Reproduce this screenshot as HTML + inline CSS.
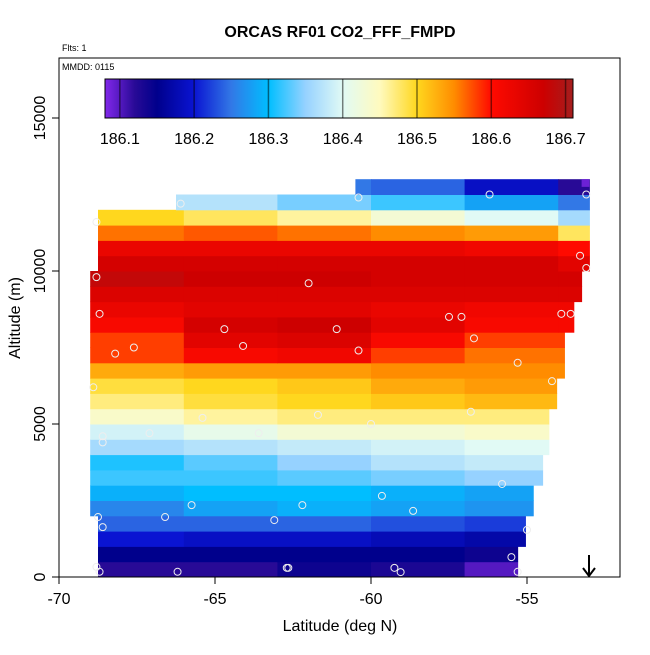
<!DOCTYPE html>
<html><head><meta charset="utf-8"><style>
body{margin:0;background:#fff;}
svg text{font-family:"Liberation Sans",sans-serif;}
</style></head><body>
<svg id="chart" width="650" height="650" viewBox="0 0 650 650">
<defs><linearGradient id="cbg" x1="0" x2="1" y1="0" y2="0"></linearGradient></defs>
<text x="340" y="37" text-anchor="middle" font-size="16" font-weight="bold">ORCAS RF01 CO2_FFF_FMPD</text>
<text x="62" y="51" font-size="9">Flts: 1</text>
<g id="cells"></g>
<g id="points"></g>
<rect x="59" y="58" width="561" height="519" fill="none" stroke="#000" stroke-width="1"/>
<text x="62" y="70" font-size="9">MMDD: 0115</text>
<rect id="cbar" x="105" y="79" width="468" height="39" fill="url(#cbg)" stroke="#000" stroke-width="1"/>
<g id="cbticks"></g>
<g id="axes"></g>
<g>
<line x1="589" y1="555" x2="589" y2="576" stroke="#000" stroke-width="2"/>
<polyline points="583,568 589,576 595,568" fill="none" stroke="#000" stroke-width="2"/>
</g>
<text x="340" y="631" text-anchor="middle" font-size="16">Latitude (deg N)</text>
<text x="20" y="318" text-anchor="middle" font-size="16" transform="rotate(-90 20 318)">Altitude (m)</text>
</svg>
<script>
// data
const latBins=[-69.0,-66.0,-63.0,-60.0,-57.0,-54.0,-53.0];
const altBins=[0,500,1000,1500,2000,2500,3000,3500,4000,4500,5000,5500,6000,6500,7000,7500,8000,8500,9000,9500,10000,10500,11000,11500,12000,12500,13000];
const rowLeft=[-68.75,-68.75,-68.75,-68.75,-69.0,-69.0,-69.0,-69.0,-69.0,-69.0,-69.0,-69.0,-69.0,-69.0,-69.0,-69.0,-69.0,-69.0,-69.0,-69.0,-68.75,-68.75,-68.75,-68.75,-66.25,-60.5];
const rowRight=[-55.3,-55.3,-55.05,-55.05,-54.8,-54.8,-54.5,-54.5,-54.3,-54.3,-54.3,-54.05,-54.05,-53.8,-53.8,-53.8,-53.5,-53.5,-53.25,-53.25,-53.0,-53.0,-53.0,-53.0,-53.0,-53.0];
const values=[
[186.12,186.12,186.14,186.13,186.10,186.10],
[186.15,186.15,186.15,186.15,186.14,186.14],
[186.20,186.19,186.19,186.18,186.17,186.17],
[186.24,186.24,186.24,186.23,186.22,186.22],
[186.26,186.28,186.29,186.28,186.27,186.27],
[186.29,186.30,186.30,186.29,186.28,186.28],
[186.32,186.32,186.33,186.34,186.35,186.35],
[186.31,186.33,186.35,186.37,186.38,186.38],
[186.36,186.37,186.38,186.39,186.40,186.40],
[186.39,186.41,186.43,186.43,186.44,186.44],
[186.44,186.46,186.47,186.47,186.47,186.47],
[186.47,186.49,186.50,186.51,186.52,186.52],
[186.49,186.50,186.51,186.53,186.54,186.54],
[186.53,186.54,186.54,186.55,186.55,186.55],
[186.58,186.61,186.62,186.58,186.56,186.56],
[186.58,186.64,186.65,186.61,186.58,186.58],
[186.61,186.66,186.67,186.64,186.61,186.61],
[186.63,186.64,186.64,186.63,186.62,186.62],
[186.65,186.65,186.65,186.65,186.65,186.65],
[186.68,186.67,186.67,186.66,186.66,186.66],
[186.66,186.66,186.66,186.66,186.66,186.64],
[186.63,186.63,186.63,186.63,186.62,186.60],
[186.56,186.57,186.56,186.55,186.54,186.48],
[186.50,186.48,186.46,186.43,186.40,186.36],
[186.37,186.37,186.34,186.32,186.28,186.25],
[186.25,186.25,186.25,186.24,186.19,186.12]
];
const ptLat=[-68.8,-68.8,-68.7,-68.2,-67.6,-64.7,-64.1,-62.0,-61.1,-60.4,-57.5,-57.1,-56.7,-55.3,-54.2,-53.9,-53.6,-53.3,-53.1,-53.1,-56.2,-60.4,-66.1,-68.9,-67.1,-65.4,-63.6,-61.7,-60.0,-56.8,-68.6,-68.6,-55.8,-58.65,-59.65,-62.2,-63.1,-65.75,-66.6,-68.75,-68.6,-55.0,-55.5,-68.8,-68.7,-66.2,-62.7,-62.65,-59.25,-59.05,-55.3];
const ptAlt=[11600,9800,8600,7300,7500,8100,7550,9600,8100,7400,8500,8500,7800,7000,6400,8600,8600,10500,10100,12500,12500,12400,12200,6200,4700,5200,4700,5300,5000,5400,4600,4400,3040,2160,2650,2350,1860,2350,1960,1960,1630,1540,650,330,170,170,300,300,300,160,170];
const cbTicks=[186.1,186.2,186.3,186.4,186.5,186.6,186.7];
const cStops=[[186.08,[130,40,235]],[186.12,[40,10,150]],[186.15,[0,0,140]],[186.2,[10,20,210]],[186.25,[50,120,230]],[186.3,[0,190,255]],[186.35,[150,210,255]],[186.4,[225,250,245]],[186.45,[255,250,190]],[186.5,[255,215,30]],[186.55,[255,140,0]],[186.6,[255,10,0]],[186.67,[205,0,0]],[186.71,[165,30,30]]];

const NS='http://www.w3.org/2000/svg';
const xs=l=>59+(l+70)*31.2, ys=a=>577-a*0.0306, cx=v=>105+(v-186.08)/(186.71-186.08)*468;
function col(v){
  if(v<=cStops[0][0])return cStops[0][1];
  for(let i=1;i<cStops.length;i++){if(v<=cStops[i][0]){const a=cStops[i-1],b=cStops[i],t=(v-a[0])/(b[0]-a[0]);return a[1].map((c,k)=>Math.round(c+(b[1][k]-c)*t));}}
  return cStops[cStops.length-1][1];
}
const rgb=c=>`rgb(${c[0]},${c[1]},${c[2]})`;
const g=document.getElementById('cells');
for(let r=0;r<values.length;r++){
  for(let c=0;c<latBins.length-1;c++){
    const l0=Math.max(latBins[c],rowLeft[r]), l1=Math.min(latBins[c+1],rowRight[r]);
    if(l1<=l0)continue;
    const e=document.createElementNS(NS,'rect');
    e.setAttribute('x',xs(l0));e.setAttribute('width',xs(l1)-xs(l0)+0.5);
    e.setAttribute('y',ys(altBins[r+1]));e.setAttribute('height',ys(altBins[r])-ys(altBins[r+1])+0.5);
    e.setAttribute('fill',rgb(col(values[r][c])));
    
    
    g.appendChild(e);
  }
}
const topCell=document.createElementNS(NS,'rect');
topCell.setAttribute('x',xs(-53.25));topCell.setAttribute('width',xs(-53)-xs(-53.25));topCell.setAttribute('y',ys(13000));topCell.setAttribute('height',ys(12750)-ys(13000));topCell.setAttribute('fill',rgb(col(186.09)));


g.appendChild(topCell);
const pg=document.getElementById('points');
ptLat.forEach((l,i)=>{const e=document.createElementNS(NS,'circle');e.setAttribute('cx',xs(l));e.setAttribute('cy',ys(ptAlt[i]));e.setAttribute('r',3.5);e.setAttribute('fill','none');e.setAttribute('stroke','#eee');e.setAttribute('stroke-width','1');


pg.appendChild(e);});
// colorbar gradient
const gr=document.getElementById('cbg');
cStops.forEach(s=>{const st=document.createElementNS(NS,'stop');st.setAttribute('offset',(s[0]-186.08)/(0.63));st.setAttribute('stop-color',rgb(s[1]));gr.appendChild(st);});
const cbt=document.getElementById('cbticks');
cbTicks.forEach(v=>{const x=cx(v);
 const ln=document.createElementNS(NS,'line');ln.setAttribute('x1',x);ln.setAttribute('x2',x);ln.setAttribute('y1',79);ln.setAttribute('y2',118);ln.setAttribute('stroke','rgba(0,0,0,0.5)');ln.setAttribute('stroke-width','1.5');
 
 
 cbt.appendChild(ln);
 const t=document.createElementNS(NS,'text');t.setAttribute('x',x);t.setAttribute('y',144);t.setAttribute('text-anchor','middle');t.setAttribute('font-size','16');t.textContent=v.toFixed(1);
 
 
 cbt.appendChild(t);});
const ax=document.getElementById('axes');
const xTicks=[-70,-65,-60,-55], yTicks=[0,5000,10000,15000];
xTicks.forEach(v=>{const x=xs(v);
 const ln=document.createElementNS(NS,'line');ln.setAttribute('x1',x);ln.setAttribute('x2',x);ln.setAttribute('y1',577);ln.setAttribute('y2',584);ln.setAttribute('stroke','#000');
 
 
 ax.appendChild(ln);
 const t=document.createElementNS(NS,'text');t.setAttribute('x',x);t.setAttribute('y',604);t.setAttribute('text-anchor','middle');t.setAttribute('font-size','16');t.textContent=v;
 
 
 ax.appendChild(t);});
yTicks.forEach(v=>{const y=ys(v);
 const ln=document.createElementNS(NS,'line');ln.setAttribute('x1',52);ln.setAttribute('x2',59);ln.setAttribute('y1',y);ln.setAttribute('y2',y);ln.setAttribute('stroke','#000');
 
 
 ax.appendChild(ln);
 const t=document.createElementNS(NS,'text');t.setAttribute('x',45);t.setAttribute('y',y);t.setAttribute('text-anchor','middle');t.setAttribute('font-size','16');t.setAttribute('transform',`rotate(-90 45 ${y})`);t.textContent=v;
 
 
 ax.appendChild(t);});
</script>
</body></html>
